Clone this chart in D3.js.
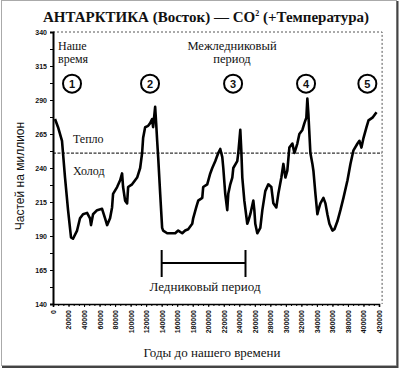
<!DOCTYPE html>
<html>
<head>
<meta charset="utf-8">
<title></title>
<script src="https://d3js.org/d3.v7.min.js"></script>
<style>
  body {margin:0; background:#fff}
  text {font-family: "Liberation Serif", "DejaVu Serif", serif; fill:#111}
  .tick {font-family: "Liberation Sans", Arial, sans-serif; font-size:7px; font-weight:bold}
</style>
</head>
<body>
<div id="chart"></div>
<script>
// years before present
var years = [2600, 6500, 11600, 15500, 19400, 23200, 25800, 31000, 34800, 38700, 43900, 47700, 49000, 51600,
  56800, 63200, 67100, 69700, 73500, 76100, 77400, 82600, 86500, 89000, 90300, 92900, 95500, 96800,
  101900, 108400, 112300, 114800, 116100, 118700, 122600, 125200, 127700, 129000, 131600, 132900, 134200,
  135500, 138100, 140600, 141900, 147100, 153500, 157400, 161300, 166500, 170300, 174200, 179400, 180600,
  184500, 187100, 192300, 193500, 198700, 202600, 205200, 209000, 212900, 215500, 218100, 219400, 221900,
  224500, 225800, 228400, 231000, 232300, 237400, 238700, 241300, 242600, 243900, 246500, 250300, 251600,
  254200, 258100, 259400, 260600, 263200, 267100, 269700, 273500, 277400, 281300, 283900, 287700, 290300,
  294200, 296800, 299400, 301900, 304500, 308400, 311000, 314800, 317400, 321300, 323900, 326400, 327700,
  329000, 331600, 334200, 335500, 338100, 340600, 341900, 344500, 348400, 351000, 353500, 356100, 360000,
  362600, 366500, 370300, 374200, 379400, 383200, 387100, 392300, 394800, 397400, 400000, 403900, 406500,
  411600, 416800];
// CO2, parts per million
var co2 = [276, 270, 260, 233, 209, 189, 188, 194, 203, 206, 207, 203, 198, 206,
  209, 210, 203, 198, 203, 211, 221, 226, 231, 236, 226, 216, 214, 226,
  228, 233, 240, 251, 262, 270, 271, 273, 276, 270, 285, 273, 260,
  248, 221, 196, 194, 192, 192, 192, 194, 192, 194, 195, 199, 203,
  211, 216, 218, 226, 228, 236, 240, 245, 251, 254, 248, 240, 221,
  209, 221, 228, 233, 240, 245, 251, 268, 253, 233, 216, 199, 201,
  206, 216, 209, 199, 192, 196, 209, 223, 228, 226, 214, 211, 221,
  233, 243, 233, 238, 255, 258, 251, 258, 265, 268, 273, 277, 291,
  280, 251, 243, 238, 221, 206, 209, 214, 218, 214, 206, 199, 194,
  195, 201, 209, 218, 231, 243, 253, 258, 260, 255, 262, 270, 275,
  277, 281];
var yTicks = [140, 165, 190, 215, 240, 265, 290, 315, 340];
var xTicks = d3.range(0, 420001, 20000);
var warmCold = 251;
var peaks = [{n: "1", year: 24500}, {n: "2", year: 125000}, {n: "3", year: 232000},
             {n: "4", year: 326000}, {n: "5", year: 405000}];
var glacial = [140000, 248000];

var W = 400, H = 368;
var svg = d3.select("#chart").append("svg").attr("width", W).attr("height", H);

// frame of the picture
svg.append("rect").attr("x", 1.5).attr("y", 0.5).attr("width", 395).attr("height", 365)
  .attr("fill", "none").attr("stroke", "#aaa");
svg.append("path").attr("d", "M397.5,1V367H2").attr("fill", "none").attr("stroke", "#444").attr("stroke-width", 2);

var x = d3.scaleLinear().domain([0, 420000]).range([53, 379]);
var y = d3.scaleLinear().domain([140, 340]).range([304, 32]);
var xRight = x(424000);

// title
svg.append("text").attr("x", 206).attr("y", 22).attr("text-anchor", "middle")
  .style("font-size", "15px").style("font-weight", "bold")
  .html('АНТАРКТИКА (Восток) — CO<tspan dy="-6" style="font-size:8px">2</tspan><tspan dy="6"> (+Температура)</tspan>');

// dotted top and right border
svg.append("path").attr("d", "M" + x(0) + "," + y(340) + "H" + xRight + "V" + y(140))
  .attr("fill", "none").attr("stroke", "#555").attr("stroke-dasharray", "2,2");

// warm / cold line
svg.append("line").attr("x1", x(0)).attr("x2", xRight).attr("y1", y(warmCold)).attr("y2", y(warmCold))
  .attr("stroke", "#333").attr("stroke-width", 1.2).attr("stroke-dasharray", "3,1.5");

// y axis
var yAxis = svg.append("g").attr("transform", "translate(" + x(0) + ",0)")
  .call(d3.axisLeft(y).tickValues(yTicks).tickSize(3).tickPadding(3));
yAxis.select(".domain").attr("stroke", "#000").attr("stroke-width", 2);
yAxis.selectAll("text").attr("class", "tick").style("font-size", "7px").style("font-weight", "bold");
svg.append("g").attr("transform", "translate(" + x(0) + ",0)")
  .call(d3.axisLeft(y).tickValues(d3.range(140, 341, 12.5)).tickSize(3).tickFormat(""))
  .select(".domain").remove();

// x axis
var xAxis = svg.append("g").attr("transform", "translate(0," + y(140) + ")")
  .call(d3.axisBottom(x).tickValues(xTicks).tickSize(3).tickFormat(d3.format("d")));
xAxis.select(".domain").attr("stroke", "#000").attr("stroke-width", 1.6);
xAxis.selectAll("text").attr("class", "tick").style("font-size", "7px").style("font-weight", "bold")
  .attr("text-anchor", "end").attr("transform", "rotate(-90)").attr("x", -6).attr("y", 0).attr("dy", "0.35em");
svg.append("g").attr("transform", "translate(0," + y(140) + ")")
  .call(d3.axisBottom(x).tickValues(d3.range(0, 420001, 20000 / 3)).tickSize(2).tickFormat(""))
  .select(".domain").remove();

// CO2 curve
svg.append("path").datum(d3.zip(years, co2))
  .attr("fill", "none").attr("stroke", "#000").attr("stroke-width", 2.6).attr("stroke-linejoin", "round")
  .attr("d", d3.line().x(function(d) { return x(d[0]); }).y(function(d) { return y(d[1]); }));

// numbered circles
var pk = svg.append("g").selectAll("g").data(peaks).enter().append("g")
  .attr("transform", function(d) { return "translate(" + x(d.year) + "," + y(302) + ")"; });
pk.append("circle").attr("r", 9).attr("fill", "#fff").attr("stroke", "#000").attr("stroke-width", 2);
pk.append("text").attr("text-anchor", "middle").attr("dy", "0.36em")
  .style("font-family", "'Liberation Sans', Arial, sans-serif").style("font-size", "11px").style("font-weight", "bold")
  .text(function(d) { return d.n; });

// labels
function label(t, px, py, size, anchor) {
  svg.append("text").attr("x", px).attr("y", py).attr("text-anchor", anchor || "start")
    .style("font-size", size + "px").text(t);
}
label("Наше", 58, 50, 12);
label("время", 58, 63, 12);
label("Межледниковый", 232, 50, 12.5, "middle");
label("период", 232, 63, 12.5, "middle");
label("Тепло", 73, 143, 12);
label("Холод", 73, 175, 12);

// glacial period bracket
var gy = 263;
svg.append("line").attr("x1", x(glacial[0])).attr("x2", x(glacial[1])).attr("y1", gy).attr("y2", gy)
  .attr("stroke", "#000").attr("stroke-width", 2);
svg.selectAll(".gbar").data(glacial).enter().append("line")
  .attr("x1", function(d) { return x(d); }).attr("x2", function(d) { return x(d); })
  .attr("y1", gy - 13).attr("y2", gy + 14).attr("stroke", "#000").attr("stroke-width", 2);
label("Ледниковый период", 205, 291, 13, "middle");

// axis titles
svg.append("text").attr("transform", "translate(24,176) rotate(-90)").attr("text-anchor", "middle")
  .style("font-family", "'Liberation Sans', Arial, sans-serif").style("font-size", "12px")
  .text("Частей на миллион");
label("Годы до нашего времени", 212, 357, 13, "middle");
</script>
</body>
</html>
